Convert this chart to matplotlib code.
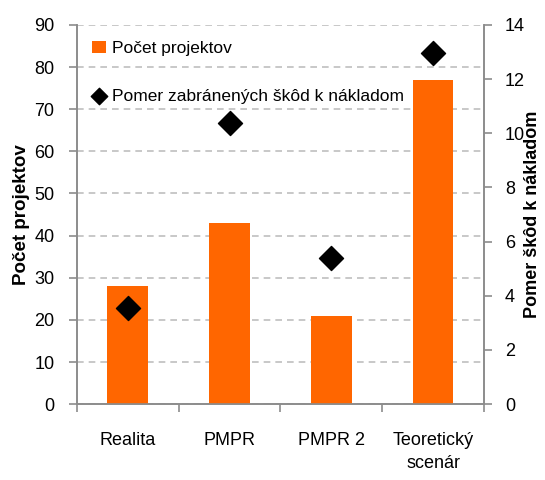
import matplotlib.pyplot as plt
import numpy as np

plt.rcParams['font.family'] = ['Liberation Sans', 'DejaVu Sans']

categories = ["Realita", "PMPR", "PMPR 2", "Teoretický\nscenár"]
pocet_projektov = [28, 43, 21, 77]
pomer = [3.55, 10.38, 5.38, 12.98]

bar_color = '#FF6600'
axis_color = '#8C8C8C'

fig = plt.figure(figsize=(5.45, 4.8), dpi=100)
ax = fig.add_axes([0.141, 0.158, 0.747, 0.79])
ax2 = ax.twinx()

x = np.arange(len(categories))
bars = ax.bar(x, pocet_projektov, 0.4, color=bar_color, zorder=3, label='Počet projektov')
pts = ax2.scatter(x, pomer, marker='D', s=150, color='black', zorder=4,
                  label='Pomer zabránených škôd k nákladom')

ax.set_xlim(-0.5, 3.5)
ax.set_ylim(0, 90)
ax.set_yticks(np.arange(0, 91, 10))
ax2.set_ylim(0, 14)
ax2.set_yticks(np.arange(0, 15, 2))

ax.yaxis.grid(True, linestyle=(0, (4, 3)), color='#BFBFBF', linewidth=1.2, zorder=0)
ax.set_axisbelow(True)

ax.set_xticks(x)
ax.set_xticklabels(categories, linespacing=1.5)
ax.set_xticks(np.arange(-0.5, 4, 1), minor=True)
ax.tick_params(axis='x', which='major', length=0, pad=20, labelsize=13)
ax.tick_params(axis='x', which='minor', length=6, color=axis_color, width=1.2)
ax.tick_params(axis='y', length=6, color=axis_color, width=1.2, labelsize=13, pad=10)
ax2.tick_params(axis='y', length=6, color=axis_color, width=1.2, labelsize=13, pad=9)

for a in (ax, ax2):
    a.spines['top'].set_visible(False)
    for s in ('left', 'right', 'bottom'):
        a.spines[s].set_color(axis_color)
        a.spines[s].set_linewidth(1.2)

ax.set_ylabel('Počet projektov', fontsize=13.5, fontweight='bold')
ax.yaxis.set_label_coords(-0.115, 0.5)
ax2.set_ylabel('Pomer škôd k nákladom', fontsize=13, fontweight='bold')
ax2.yaxis.set_label_coords(1.098, 0.5)

leg = ax.legend([bars, pts], ['Počet projektov', 'Pomer zabránených škôd k nákladom'],
                loc='upper left', bbox_to_anchor=(0.0, 1.0), frameon=False,
                fontsize=12.5, handlelength=0.8, handletextpad=0.3, labelspacing=1.9,
                borderaxespad=0.5)
leg.legend_handles[1].set_sizes([70])

fig.savefig('out.png', dpi=100)
